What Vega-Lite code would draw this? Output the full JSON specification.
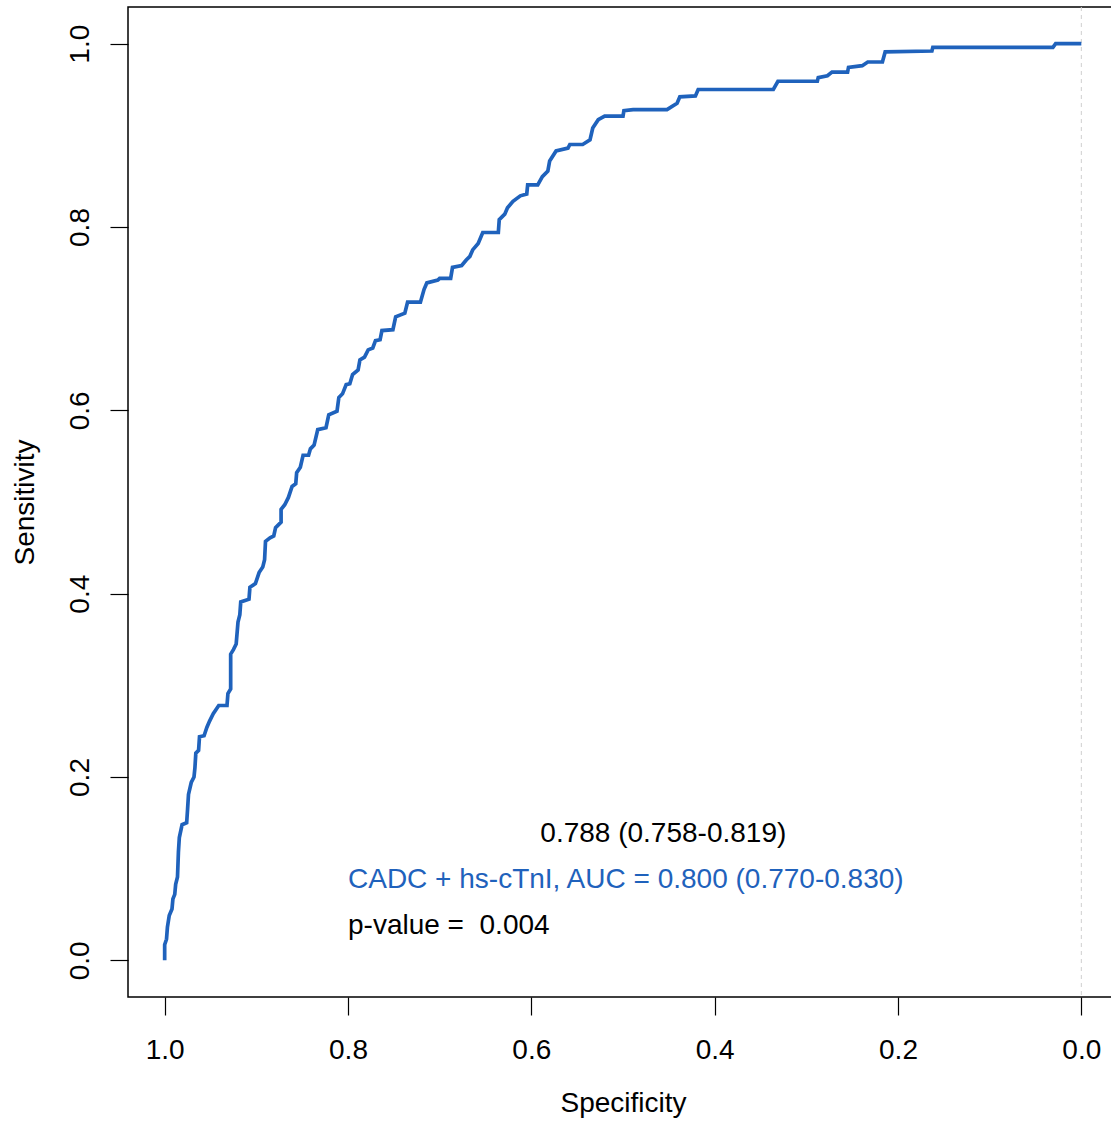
{
  "$schema": "https://vega.github.io/schema/vega-lite/v6.json",
  "autosize": {"type": "none"},
  "padding": {"left": 128, "top": 7, "right": 0, "bottom": 125},
  "width": 990,
  "height": 990,
  "background": "white",
  "config": {
    "view": {"stroke": "black", "strokeWidth": 1.5},
    "font": "Liberation Sans"
  },
  "datasets": {
    "roc": [
      {"i": 1, "spec": 1.000, "sens": 0.000},
      {"i": 2, "spec": 1.000, "sens": 0.017},
      {"i": 3, "spec": 0.998, "sens": 0.023},
      {"i": 4, "spec": 0.997, "sens": 0.036},
      {"i": 5, "spec": 0.995, "sens": 0.049},
      {"i": 6, "spec": 0.992, "sens": 0.056},
      {"i": 7, "spec": 0.991, "sens": 0.067},
      {"i": 8, "spec": 0.989, "sens": 0.072},
      {"i": 9, "spec": 0.988, "sens": 0.083},
      {"i": 10, "spec": 0.986, "sens": 0.091},
      {"i": 11, "spec": 0.985, "sens": 0.118},
      {"i": 12, "spec": 0.984, "sens": 0.134},
      {"i": 13, "spec": 0.981, "sens": 0.148},
      {"i": 14, "spec": 0.976, "sens": 0.150},
      {"i": 15, "spec": 0.975, "sens": 0.165},
      {"i": 16, "spec": 0.974, "sens": 0.181},
      {"i": 17, "spec": 0.971, "sens": 0.194},
      {"i": 18, "spec": 0.968, "sens": 0.200},
      {"i": 19, "spec": 0.967, "sens": 0.210},
      {"i": 20, "spec": 0.966, "sens": 0.226},
      {"i": 21, "spec": 0.963, "sens": 0.229},
      {"i": 22, "spec": 0.962, "sens": 0.244},
      {"i": 23, "spec": 0.957, "sens": 0.245},
      {"i": 24, "spec": 0.954, "sens": 0.254},
      {"i": 25, "spec": 0.951, "sens": 0.261},
      {"i": 26, "spec": 0.947, "sens": 0.269},
      {"i": 27, "spec": 0.941, "sens": 0.278},
      {"i": 28, "spec": 0.932, "sens": 0.278},
      {"i": 29, "spec": 0.931, "sens": 0.291},
      {"i": 30, "spec": 0.928, "sens": 0.296},
      {"i": 31, "spec": 0.928, "sens": 0.334},
      {"i": 32, "spec": 0.925, "sens": 0.339},
      {"i": 33, "spec": 0.922, "sens": 0.345},
      {"i": 34, "spec": 0.920, "sens": 0.369},
      {"i": 35, "spec": 0.918, "sens": 0.377},
      {"i": 36, "spec": 0.917, "sens": 0.391},
      {"i": 37, "spec": 0.908, "sens": 0.394},
      {"i": 38, "spec": 0.907, "sens": 0.407},
      {"i": 39, "spec": 0.901, "sens": 0.411},
      {"i": 40, "spec": 0.897, "sens": 0.423},
      {"i": 41, "spec": 0.893, "sens": 0.429},
      {"i": 42, "spec": 0.891, "sens": 0.437},
      {"i": 43, "spec": 0.890, "sens": 0.457},
      {"i": 44, "spec": 0.885, "sens": 0.461},
      {"i": 45, "spec": 0.881, "sens": 0.463},
      {"i": 46, "spec": 0.879, "sens": 0.472},
      {"i": 47, "spec": 0.873, "sens": 0.478},
      {"i": 48, "spec": 0.873, "sens": 0.492},
      {"i": 49, "spec": 0.869, "sens": 0.497},
      {"i": 50, "spec": 0.865, "sens": 0.505},
      {"i": 51, "spec": 0.861, "sens": 0.517},
      {"i": 52, "spec": 0.857, "sens": 0.520},
      {"i": 53, "spec": 0.856, "sens": 0.532},
      {"i": 54, "spec": 0.852, "sens": 0.538},
      {"i": 55, "spec": 0.849, "sens": 0.551},
      {"i": 56, "spec": 0.843, "sens": 0.551},
      {"i": 57, "spec": 0.841, "sens": 0.558},
      {"i": 58, "spec": 0.837, "sens": 0.562},
      {"i": 59, "spec": 0.833, "sens": 0.579},
      {"i": 60, "spec": 0.824, "sens": 0.581},
      {"i": 61, "spec": 0.821, "sens": 0.595},
      {"i": 62, "spec": 0.812, "sens": 0.599},
      {"i": 63, "spec": 0.810, "sens": 0.614},
      {"i": 64, "spec": 0.806, "sens": 0.618},
      {"i": 65, "spec": 0.802, "sens": 0.628},
      {"i": 66, "spec": 0.798, "sens": 0.629},
      {"i": 67, "spec": 0.795, "sens": 0.639},
      {"i": 68, "spec": 0.789, "sens": 0.644},
      {"i": 69, "spec": 0.787, "sens": 0.655},
      {"i": 70, "spec": 0.782, "sens": 0.658},
      {"i": 71, "spec": 0.778, "sens": 0.666},
      {"i": 72, "spec": 0.773, "sens": 0.668},
      {"i": 73, "spec": 0.770, "sens": 0.676},
      {"i": 74, "spec": 0.765, "sens": 0.677},
      {"i": 75, "spec": 0.763, "sens": 0.687},
      {"i": 76, "spec": 0.751, "sens": 0.688},
      {"i": 77, "spec": 0.748, "sens": 0.702},
      {"i": 78, "spec": 0.738, "sens": 0.706},
      {"i": 79, "spec": 0.735, "sens": 0.718},
      {"i": 80, "spec": 0.721, "sens": 0.718},
      {"i": 81, "spec": 0.717, "sens": 0.732},
      {"i": 82, "spec": 0.714, "sens": 0.739},
      {"i": 83, "spec": 0.702, "sens": 0.742},
      {"i": 84, "spec": 0.700, "sens": 0.744},
      {"i": 85, "spec": 0.688, "sens": 0.744},
      {"i": 86, "spec": 0.686, "sens": 0.756},
      {"i": 87, "spec": 0.676, "sens": 0.758},
      {"i": 88, "spec": 0.671, "sens": 0.764},
      {"i": 89, "spec": 0.667, "sens": 0.768},
      {"i": 90, "spec": 0.664, "sens": 0.775},
      {"i": 91, "spec": 0.658, "sens": 0.782},
      {"i": 92, "spec": 0.653, "sens": 0.794},
      {"i": 93, "spec": 0.636, "sens": 0.794},
      {"i": 94, "spec": 0.635, "sens": 0.808},
      {"i": 95, "spec": 0.629, "sens": 0.814},
      {"i": 96, "spec": 0.626, "sens": 0.821},
      {"i": 97, "spec": 0.620, "sens": 0.828},
      {"i": 98, "spec": 0.612, "sens": 0.834},
      {"i": 99, "spec": 0.605, "sens": 0.836},
      {"i": 100, "spec": 0.604, "sens": 0.846},
      {"i": 101, "spec": 0.593, "sens": 0.846},
      {"i": 102, "spec": 0.588, "sens": 0.855},
      {"i": 103, "spec": 0.582, "sens": 0.861},
      {"i": 104, "spec": 0.580, "sens": 0.872},
      {"i": 105, "spec": 0.573, "sens": 0.883},
      {"i": 106, "spec": 0.560, "sens": 0.886},
      {"i": 107, "spec": 0.558, "sens": 0.890},
      {"i": 108, "spec": 0.544, "sens": 0.890},
      {"i": 109, "spec": 0.536, "sens": 0.895},
      {"i": 110, "spec": 0.533, "sens": 0.908},
      {"i": 111, "spec": 0.527, "sens": 0.917},
      {"i": 112, "spec": 0.520, "sens": 0.921},
      {"i": 113, "spec": 0.500, "sens": 0.921},
      {"i": 114, "spec": 0.499, "sens": 0.927},
      {"i": 115, "spec": 0.489, "sens": 0.928},
      {"i": 116, "spec": 0.452, "sens": 0.928},
      {"i": 117, "spec": 0.441, "sens": 0.935},
      {"i": 118, "spec": 0.438, "sens": 0.942},
      {"i": 119, "spec": 0.421, "sens": 0.943},
      {"i": 120, "spec": 0.418, "sens": 0.950},
      {"i": 121, "spec": 0.336, "sens": 0.950},
      {"i": 122, "spec": 0.331, "sens": 0.959},
      {"i": 123, "spec": 0.288, "sens": 0.959},
      {"i": 124, "spec": 0.287, "sens": 0.963},
      {"i": 125, "spec": 0.277, "sens": 0.965},
      {"i": 126, "spec": 0.272, "sens": 0.969},
      {"i": 127, "spec": 0.255, "sens": 0.969},
      {"i": 128, "spec": 0.254, "sens": 0.974},
      {"i": 129, "spec": 0.239, "sens": 0.976},
      {"i": 130, "spec": 0.233, "sens": 0.980},
      {"i": 131, "spec": 0.217, "sens": 0.980},
      {"i": 132, "spec": 0.214, "sens": 0.991},
      {"i": 133, "spec": 0.163, "sens": 0.992},
      {"i": 134, "spec": 0.162, "sens": 0.996},
      {"i": 135, "spec": 0.031, "sens": 0.996},
      {"i": 136, "spec": 0.028, "sens": 1.000},
      {"i": 137, "spec": 0.000, "sens": 1.000}
    ],
    "ci": [
      {"spec": 0.456, "sens": 0.138, "label": "0.788 (0.758-0.819)"}
    ],
    "auc": [
      {"spec": 0.800, "sens": 0.088, "label": "CADC + hs-cTnI, AUC = 0.800 (0.770-0.830)"}
    ],
    "pval": [
      {"spec": 0.800, "sens": 0.038, "label": "p-value =\u00a0 0.004"}
    ],
    "ref": [{"spec": 0}]
  },
  "encoding": {
    "x": {
      "field": "spec", "type": "quantitative",
      "scale": {"domain": [-0.04, 1.04], "reverse": true, "nice": false, "zero": false},
      "axis": {
        "title": "Specificity", "values": [0, 0.2, 0.4, 0.6, 0.8, 1.0], "format": ".1f",
        "domain": false, "grid": false, "tickSize": 18, "tickColor": "black", "tickWidth": 1.2,
        "labelFontSize": 28, "labelColor": "black", "labelPadding": 21, "labelFont": "Liberation Sans",
        "titleFontSize": 28, "titleFontWeight": "normal", "titleColor": "black", "titlePadding": 25, "titleFont": "Liberation Sans"
      }
    },
    "y": {
      "field": "sens", "type": "quantitative",
      "scale": {"domain": [-0.04, 1.04], "nice": false, "zero": false},
      "axis": {
        "title": "Sensitivity", "values": [0, 0.2, 0.4, 0.6, 0.8, 1.0], "format": ".1f",
        "domain": false, "grid": false, "tickSize": 18, "tickColor": "black", "tickWidth": 1.2,
        "labelFontSize": 28, "labelColor": "black", "labelPadding": 16, "labelAngle": -90,
        "labelAlign": "center", "labelBaseline": "bottom", "labelFont": "Liberation Sans",
        "titleFontSize": 28, "titleFontWeight": "normal", "titleColor": "black", "titlePadding": 27, "titleFont": "Liberation Sans"
      }
    }
  },
  "layer": [
    {
      "data": {"name": "ref"},
      "mark": {"type": "rule", "color": "#cfcfcf", "strokeDash": [4, 4], "strokeWidth": 1},
      "encoding": {"x": {"field": "spec", "type": "quantitative"}, "y": {"value": 0}, "y2": {"value": 990}}
    },
    {
      "data": {"name": "roc"},
      "mark": {"type": "line", "color": "#1F62BC", "strokeWidth": 3.7, "interpolate": "linear"},
      "encoding": {"order": {"field": "i", "type": "quantitative"}}
    },
    {
      "data": {"name": "ci"},
      "mark": {"type": "text", "fontSize": 28, "font": "Liberation Sans", "baseline": "middle", "align": "center", "color": "black"},
      "encoding": {"text": {"field": "label"}}
    },
    {
      "data": {"name": "auc"},
      "mark": {"type": "text", "fontSize": 28, "font": "Liberation Sans", "baseline": "middle", "align": "left", "color": "#1F62BC"},
      "encoding": {"text": {"field": "label"}}
    },
    {
      "data": {"name": "pval"},
      "mark": {"type": "text", "fontSize": 28, "font": "Liberation Sans", "baseline": "middle", "align": "left", "color": "black"},
      "encoding": {"text": {"field": "label"}}
    }
  ]
}
